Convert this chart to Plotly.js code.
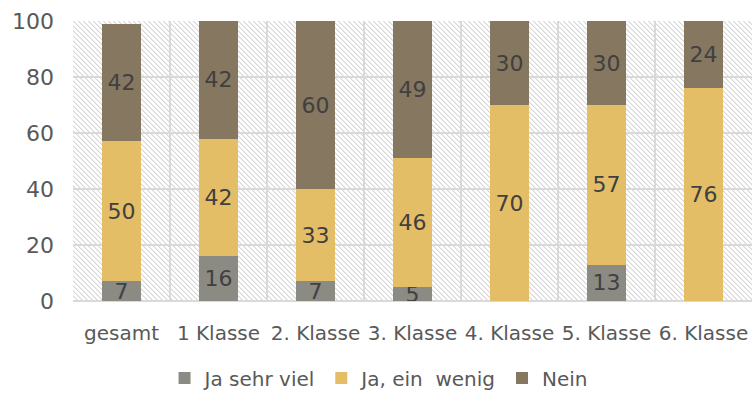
<!DOCTYPE html>
<html>
<head>
<meta charset="utf-8">
<script src="https://cdn.plot.ly/plotly-3.0.1.min.js"></script>
<style>
  html, body { margin: 0; padding: 0; background: #fff; }
  #wrap { position: relative; width: 755px; height: 401px; }
  #hatch {
    position: absolute;
    background-image: url("data:image/svg+xml;utf8,<svg xmlns='http://www.w3.org/2000/svg' width='5' height='5' shape-rendering='crispEdges'><path d='M0 0h1v1h-1zM1 1h1v1h-1zM2 2h1v1h-1zM3 3h1v1h-1zM4 4h1v1h-1z' fill='%23d6d6d6'/><path d='M1 0h1v1h-1zM2 1h1v1h-1zM3 2h1v1h-1zM4 3h1v1h-1zM0 4h1v1h-1z' fill='%23ececec'/></svg>");
    background-repeat: repeat;
  }
  #chart { position: absolute; left: 0; top: 0; width: 755px; height: 401px; }
</style>
</head>
<body>
<div id="wrap">
  <div id="hatch"></div>
  <div id="chart"></div>
</div>
<script>
const categories = ['gesamt', '1 Klasse', '2. Klasse', '3. Klasse', '4. Klasse', '5. Klasse', '6. Klasse']
const sehrViel = [7, 16, 7, 5, 0, 13, 0]
const einWenig = [50, 42, 33, 46, 70, 57, 76]
const nein = [42, 42, 60, 49, 30, 30, 24]
const yTicks = [0, 20, 40, 60, 80, 100]

const FONT = 'DejaVu Sans, sans-serif'

function series (name, values, color) {
  return {
    type: 'bar',
    name: name,
    x: categories,
    y: values,
    text: values.map(v => (v ? String(v) : '')),
    textposition: 'inside',
    insidetextanchor: 'middle',
    textangle: 0,
    constraintext: 'none',
    textfont: { family: FONT, size: 22, color: '#404040' },
    hoverinfo: 'skip',
    marker: { color: color, line: { width: 0 } },
  }
}

const data = [
  series('Ja sehr viel', sehrViel, '#8b8b83'),
  series('Ja, ein  wenig', einWenig, '#e4be67'),
  series('Nein', nein, '#857760'),
]

const layout = {
  width: 755,
  height: 401,
  margin: { l: 73, r: 3, t: 21, b: 94 },
  paper_bgcolor: 'rgba(0,0,0,0)',
  plot_bgcolor: 'rgba(0,0,0,0)',
  barmode: 'stack',
  bargap: 0.6,
  font: { family: FONT, size: 20, color: '#595959' },
  xaxis: {
    type: 'category',
    tickson: 'boundaries',
    tickangle: 0,
    automargin: false,
    showgrid: true,
    gridcolor: '#d9d9d9',
    gridwidth: 1.5,
    ticks: '',
    showline: false,
    zeroline: false,
    ticklabelstandoff: 18,
    tickfont: { family: FONT, size: 20, color: '#595959' },
    fixedrange: true,
  },
  yaxis: {
    range: [0, 100],
    tickvals: yTicks,
    automargin: false,
    showgrid: true,
    gridcolor: '#d9d9d9',
    gridwidth: 1.5,
    zeroline: true,
    zerolinecolor: '#d9d9d9',
    zerolinewidth: 2,
    ticks: '',
    ticklabelstandoff: 18,
    tickfont: { family: FONT, size: 22, color: '#595959' },
    fixedrange: true,
  },
  showlegend: true,
  legend: {
    orientation: 'h',
    traceorder: 'normal',
    x: 0.45,
    xanchor: 'center',
    y: -0.275,
    yanchor: 'middle',
    itemwidth: 30,
    font: { family: FONT, size: 20, color: '#595959' },
    itemclick: false,
  },
}

Plotly.newPlot('chart', data, layout, { displayModeBar: false, staticPlot: true }).then(gd => {
  // diagonal hatch behind the plot area
  const s = gd._fullLayout._size
  const h = document.getElementById('hatch')
  h.style.left = s.l + 'px'
  h.style.top = s.t + 'px'
  h.style.width = s.w + 'px'
  h.style.height = s.h + 'px'
})
</script>
</body>
</html>
